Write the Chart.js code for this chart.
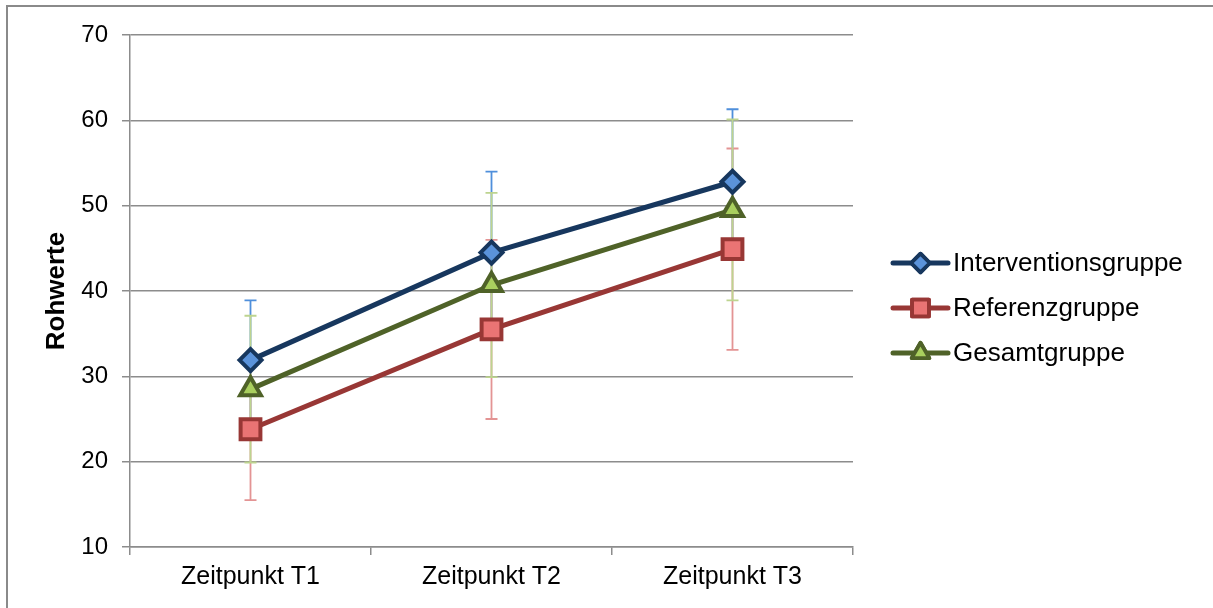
<!DOCTYPE html>
<html>
<head>
<meta charset="utf-8">
<script src="https://cdn.jsdelivr.net/npm/chart.js@4"></script>
<style>
  html, body { margin: 0; padding: 0; background: #fff; }
  #wrap { position: relative; width: 1213px; height: 608px; }
  #frame { position: absolute; left: 6px; top: 5px; width: 1207px; height: 603px;
           border-left: 2px solid #8a8a8a; border-top: 2px solid #8a8a8a; box-sizing: border-box; }
  canvas { position: absolute; left: 0; top: 0; }
</style>
</head>
<body>
<div id="wrap">
  <div id="frame"></div>
  <canvas id="c" width="1213" height="608"></canvas>
</div>
<script>
const categories = ['Zeitpunkt T1', 'Zeitpunkt T2', 'Zeitpunkt T3'];
const seriesNames = ['Interventionsgruppe', 'Referenzgruppe', 'Gesamtgruppe'];
const interventionValues = [31.9, 44.5, 52.8];
const interventionSD = [7.0, 9.5, 8.5];
const referenzValues = [23.8, 35.5, 44.9];
const referenzSD = [8.3, 10.5, 11.8];
const gesamtValues = [28.5, 40.7, 49.5];
const gesamtSD = [8.6, 10.8, 10.6];
const yTicks = [10, 20, 30, 40, 50, 60, 70];

const FONT = '"Liberation Sans", Arial, Helvetica, sans-serif';

const styles = [
  { line: '#17375E', fill: '#5B93DA', point: 'rectRot', radius: 11, err: '#4F8FDB' },
  { line: '#983735', fill: '#EA7474', point: 'rect', radius: 14, err: '#E39494' },
  { line: '#4F6228', fill: '#A9CF5E', point: 'triangle', radius: 12, err: '#BDD48F' }
];
const sds = [interventionSD, referenzSD, gesamtSD];

const errorBars = {
  id: 'errorBars',
  beforeDatasetsDraw(chart) {
    const ctx = chart.ctx;
    const xs = chart.scales.x, ys = chart.scales.y;
    chart.data.datasets.forEach((ds, i) => {
      const sd = sds[i];
      ctx.save();
      ctx.strokeStyle = styles[i].err;
      ctx.lineWidth = 1.8;
      ds.data.forEach((v, j) => {
        const x = xs.getPixelForValue(j);
        const yTop = ys.getPixelForValue(v + sd[j]);
        const yBot = ys.getPixelForValue(v - sd[j]);
        ctx.beginPath();
        ctx.moveTo(x, yTop); ctx.lineTo(x, yBot);
        ctx.moveTo(x - 6, yTop); ctx.lineTo(x + 6, yTop);
        ctx.moveTo(x - 6, yBot); ctx.lineTo(x + 6, yBot);
        ctx.stroke();
      });
      ctx.restore();
    });
  }
};

const customLegend = {
  id: 'customLegend',
  afterDraw(chart) {
    const ctx = chart.ctx;
    const x0 = 893, x1 = 948, xm = 920.5, tx = 953;
    const ys = [263, 308, 353];
    chart.data.datasets.forEach((ds, i) => {
      const st = styles[i];
      const y = ys[i];
      ctx.save();
      ctx.strokeStyle = st.line;
      ctx.lineWidth = 5;
      ctx.lineCap = 'round';
      ctx.beginPath(); ctx.moveTo(x0, y); ctx.lineTo(x1, y); ctx.stroke();
      ctx.fillStyle = st.fill;
      ctx.lineWidth = 3.8;
      ctx.lineJoin = 'round';
      Chart.helpers.drawPoint(ctx, { pointStyle: st.point, radius: st.radius * 0.85, rotation: 0, borderWidth: 3.8 }, xm, y);
      ctx.fill(); ctx.stroke();
      ctx.fillStyle = '#000';
      ctx.font = '26px ' + FONT;
      ctx.textBaseline = 'middle';
      ctx.textAlign = 'left';
      ctx.fillText(ds.label, tx, y + 1);
      ctx.restore();
    });
  }
};

const valueSets = [interventionValues, referenzValues, gesamtValues];

new Chart(document.getElementById('c'), {
  type: 'line',
  data: {
    labels: categories,
    datasets: valueSets.map((vals, i) => ({
      label: seriesNames[i],
      data: vals,
      borderColor: styles[i].line,
      borderWidth: 5,
      tension: 0,
      pointStyle: styles[i].point,
      pointRadius: styles[i].radius,
      pointHoverRadius: styles[i].radius,
      pointBackgroundColor: styles[i].fill,
      pointBorderColor: styles[i].line,
      pointBorderWidth: 4,
      fill: false
    }))
  },
  options: {
    responsive: false,
    animation: false,
    events: [],
    layout: { padding: { left: 41, top: 35, right: 360, bottom: 0 } },
    plugins: { legend: { display: false }, tooltip: { enabled: false } },
    scales: {
      x: {
        type: 'category',
        offset: true,
        afterFit(s) { s.height = 61; },
        grid: { offset: true, drawOnChartArea: false, color: '#8c8c8c', lineWidth: 1.5, tickLength: 8 },
        border: { color: '#8c8c8c', width: 1.5 },
        ticks: { color: '#000', font: { family: FONT, size: 25 }, padding: 7, maxRotation: 0 }
      },
      y: {
        min: 10, max: 70,
        afterFit(s) { s.width = 89; },
        afterBuildTicks(s) { s.ticks = yTicks.map(v => ({ value: v })); },
        grid: { color: '#8c8c8c', lineWidth: 1.5, tickLength: 8 },
        border: { color: '#8c8c8c', width: 1.5 },
        ticks: { color: '#000', font: { family: FONT, size: 24 }, padding: 14 },
        title: { display: true, text: 'Rohwerte', color: '#000', font: { family: FONT, size: 26, weight: 'bold' }, padding: 0 }
      }
    }
  },
  plugins: [errorBars, customLegend]
});
</script>
</body>
</html>
